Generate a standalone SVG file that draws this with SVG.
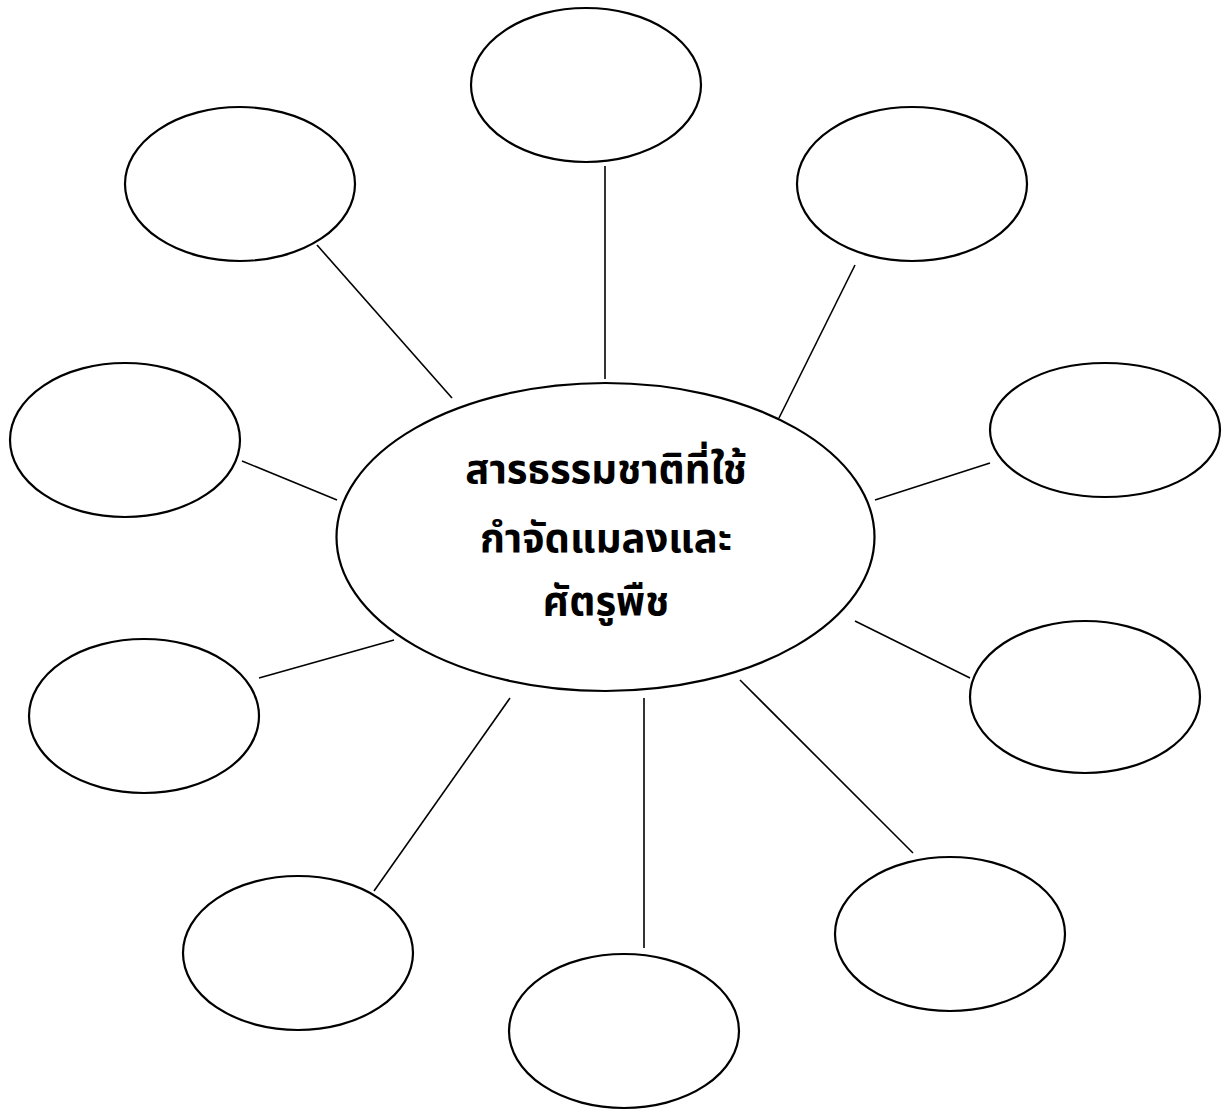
<svg xmlns="http://www.w3.org/2000/svg" width="1223" height="1111" viewBox="0 0 1223 1111">
<style>
.n{fill:#fff;stroke:#000;stroke-width:2.2}
.c line{stroke:#000;stroke-width:1.6}
.t{font-family:"Noto Sans Thai","Tahoma","DejaVu Sans","Noto Sans",sans-serif;font-weight:bold;font-size:40px;text-anchor:middle;fill:#000}
</style>
<rect width="1223" height="1111" fill="#fff"/>
<g class="c" id="connectors">
<line x1="317" y1="245" x2="452" y2="398"/>
<line x1="605" y1="166" x2="605" y2="379"/>
<line x1="855" y1="265" x2="779" y2="418"/>
<line x1="242" y1="461" x2="337" y2="500"/>
<line x1="875" y1="500" x2="990" y2="463"/>
<line x1="259" y1="678" x2="394" y2="640"/>
<line x1="855" y1="621" x2="970" y2="678"/>
<line x1="510" y1="698" x2="374" y2="891"/>
<line x1="644" y1="698" x2="644" y2="948"/>
<line x1="740" y1="680" x2="913" y2="853"/>
</g>
<g id="center"><ellipse class="n" cx="605.5" cy="537" rx="269" ry="154"/>
<text class="t" x="606" y="483">สารธรรมชาติที่ใช้</text>
<text class="t" x="606" y="552">กำจัดแมลงและ</text>
<text class="t" x="606" y="615">ศัตรูพืช</text></g>
<g id="n1"><ellipse class="n" cx="586" cy="85" rx="115" ry="77"/></g>
<g id="n2"><ellipse class="n" cx="240" cy="184" rx="115" ry="77"/></g>
<g id="n3"><ellipse class="n" cx="912" cy="184" rx="115" ry="77"/></g>
<g id="n4"><ellipse class="n" cx="125" cy="440" rx="115" ry="77"/></g>
<g id="n5"><ellipse class="n" cx="1105" cy="430" rx="115" ry="67"/></g>
<g id="n6"><ellipse class="n" cx="144" cy="716" rx="115" ry="77"/></g>
<g id="n7"><ellipse class="n" cx="1085" cy="697" rx="115" ry="76"/></g>
<g id="n8"><ellipse class="n" cx="298" cy="953" rx="115" ry="77"/></g>
<g id="n9"><ellipse class="n" cx="624" cy="1031" rx="115" ry="77"/></g>
<g id="n10"><ellipse class="n" cx="950" cy="934" rx="115" ry="77"/></g>
</svg>
